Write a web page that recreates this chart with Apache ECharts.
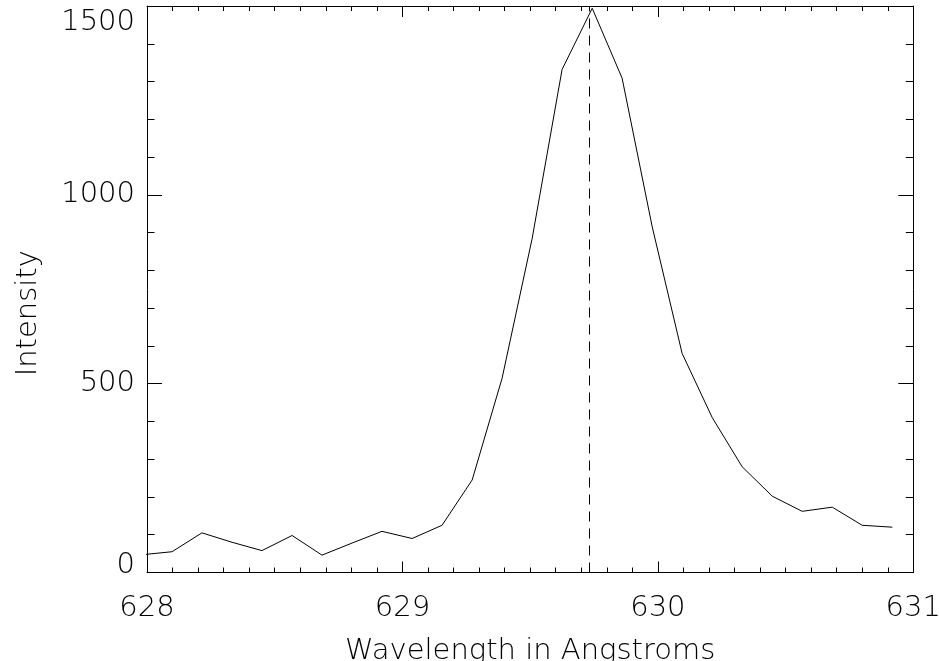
<!DOCTYPE html>
<html>
<head>
<meta charset="utf-8">
<script src="https://cdn.jsdelivr.net/npm/echarts@6/dist/echarts.min.js"></script>
<style>
html,body{margin:0;padding:0;background:#fff;}
#chart{width:939px;height:661px;}
</style>
</head>
<body>
<div id="chart"></div>
<script>
// Data
const wavelengths = [627.980, 628.098, 628.215, 628.333, 628.450, 628.568, 628.685, 628.803, 628.920, 629.038,
  629.155, 629.273, 629.390, 629.508, 629.625, 629.743, 629.860, 629.978, 630.095, 630.213,
  630.330, 630.448, 630.565, 630.683, 630.800, 630.918];
const intensity = [47, 55, 105, 80, 58, 98, 46, 78, 109, 90,
  125, 245, 514, 885, 1332, 1494, 1309, 915, 580, 410,
  280, 202, 162, 173, 125, 120];
const centerWavelength = [629.733];
const xTicks = [628, 629, 630, 631];
const yTicks = [0, 500, 1000, 1500];

const FONT = 'DejaVu Sans';
const FS = 29;
const FW = 200;
const TXT = '#000';
const chart = echarts.init(document.getElementById('chart'), null, {renderer: 'canvas'});

const lineData = wavelengths.map((w, i) => [w, intensity[i]]);

chart.setOption({
  backgroundColor: '#fff',
  animation: false,
  grid: {left: 147, right: 25.7, top: 6, bottom: 88.5, containLabel: false, outerBoundsMode: 'none'},
  xAxis: [
    {
      type: 'value', position: 'bottom', min: xTicks[0], max: xTicks[xTicks.length - 1], interval: 1,
      name: 'Wavelength in Angstroms', nameLocation: 'middle', nameGap: 64,
      nameTextStyle: {fontFamily: FONT, fontSize: FS, fontWeight: FW, color: TXT},
      axisLine: {show: true, onZero: false, lineStyle: {color: '#000', width: 1}},
      axisTick: {show: true, inside: true, length: 11, lineStyle: {color: '#000', width: 1}},
      minorTick: {show: true, splitNumber: 10, length: 5, lineStyle: {color: '#000', width: 1}},
      splitLine: {show: false},
      axisLabel: {show: true, margin: 21, fontFamily: FONT, fontSize: FS, fontWeight: FW, color: TXT,
        showMinLabel: true, showMaxLabel: true}
    },
    {
      type: 'value', position: 'top', min: xTicks[0], max: xTicks[xTicks.length - 1], interval: 1,
      axisLine: {show: true, onZero: false, lineStyle: {color: '#000', width: 1}},
      axisTick: {show: true, inside: true, length: 11, lineStyle: {color: '#000', width: 1}},
      minorTick: {show: true, splitNumber: 10, length: 5, lineStyle: {color: '#000', width: 1}},
      splitLine: {show: false},
      axisLabel: {show: false}
    }
  ],
  yAxis: [
    {
      type: 'value', position: 'left', min: yTicks[0], max: yTicks[yTicks.length - 1], interval: 500,
      name: 'Intensity', nameLocation: 'middle', nameGap: 104,
      nameTextStyle: {fontFamily: FONT, fontSize: FS, fontWeight: FW, color: TXT, padding: [0, 48, 0, 0]},
      axisLine: {show: true, onZero: false, lineStyle: {color: '#000', width: 1}},
      axisTick: {show: true, inside: true, length: 15, lineStyle: {color: '#000', width: 1}},
      minorTick: {show: true, splitNumber: 5, length: 7.5, lineStyle: {color: '#000', width: 1}},
      splitLine: {show: false},
      axisLabel: {
        show: true, margin: 12, fontFamily: FONT, fontSize: FS, fontWeight: FW, color: TXT,
        formatter: function (v) {
          if (v === yTicks[0]) return '{bot|' + v + '}';
          if (v === yTicks[yTicks.length - 1]) return '{top|' + v + '}';
          return '' + v;
        },
        rich: {
          bot: {fontFamily: FONT, fontSize: FS, fontWeight: FW, color: TXT, padding: [0, 0, 15, 0]},
          top: {fontFamily: FONT, fontSize: FS, fontWeight: FW, color: TXT, padding: [32, 0, 0, 0]}
        }
      }
    },
    {
      type: 'value', position: 'right', min: yTicks[0], max: yTicks[yTicks.length - 1], interval: 500,
      axisLine: {show: true, onZero: false, lineStyle: {color: '#000', width: 1}},
      axisTick: {show: true, inside: true, length: 15, lineStyle: {color: '#000', width: 1}},
      minorTick: {show: true, splitNumber: 5, length: 7.5, lineStyle: {color: '#000', width: 1}},
      splitLine: {show: false},
      axisLabel: {show: false}
    }
  ],
  series: [
    {
      type: 'line',
      xAxisIndex: 0, yAxisIndex: 0,
      data: lineData,
      showSymbol: false,
      symbol: 'none',
      clip: true,
      lineStyle: {color: '#000', width: 1},
      markLine: {
        silent: true,
        symbol: 'none',
        label: {show: false},
        lineStyle: {color: '#000', width: 1, type: [10, 7]},
        data: centerWavelength.map(w => ({xAxis: w}))
      }
    }
  ]
});
</script>
</body>
</html>
